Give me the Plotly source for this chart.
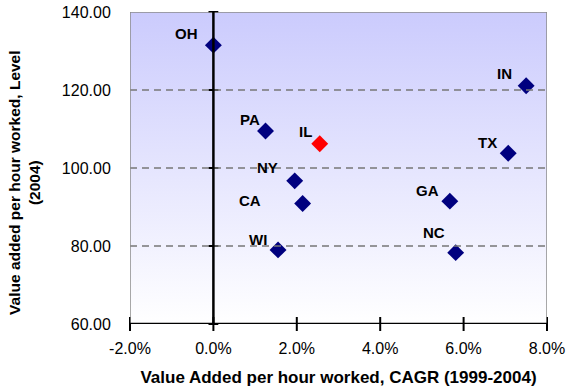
import plotly.graph_objects as go

states = ["OH", "PA", "IL", "NY", "CA", "WI", "IN", "TX", "GA", "NC"]
cagr = [0.0, 1.25, 2.55, 1.95, 2.14, 1.55, 7.50, 7.07, 5.67, 5.81]   # percent
level = [131.5, 109.5, 106.2, 96.7, 90.9, 79.0, 121.1, 103.8, 91.5, 78.3]
highlight = "IL"

x_ticks = [-2, 0, 2, 4, 6, 8]
x_tick_text = ["-2.0%", "0.0%", "2.0%", "4.0%", "6.0%", "8.0%"]
y_ticks = [60, 80, 100, 120, 140]
y_tick_text = ["60.00", "80.00", "100.00", "120.00", "140.00"]

# label offsets (pixels) relative to marker
label_offset = {
    "OH": (-27, 12), "PA": (-16, 11), "IL": (-14, 12), "NY": (-27, 13),
    "CA": (-53, 3), "WI": (-20, 10), "IN": (-22, 12), "TX": (-21, 11),
    "GA": (-22, 11), "NC": (-22, 20),
}

xmin, xmax, ymin, ymax = -2, 8, 60, 140
FONT = "Liberation Sans, Arial"

fig = go.Figure()

# gradient background
fig.add_trace(go.Scatter(
    x=[xmin, xmax, xmax, xmin, xmin], y=[ymin, ymin, ymax, ymax, ymin],
    mode="lines", line=dict(width=0), fill="toself",
    fillgradient=dict(type="vertical", colorscale=[[0, "#ffffff"], [1, "#cbcbfd"]]),
    hoverinfo="skip", showlegend=False,
))

# dashed gridlines
for yv in y_ticks[1:-1]:
    fig.add_shape(type="line", x0=xmin, x1=xmax, y0=yv, y1=yv,
                  line=dict(color="#777777", width=1.3, dash="7px,5px"))

# border (top/left/right grey)
fig.add_shape(type="rect", x0=xmin, x1=xmax, y0=ymin, y1=ymax,
              line=dict(color="#8c8c8c", width=1.5))
# axis lines
fig.add_shape(type="line", x0=0, x1=0, y0=ymin, y1=ymax, line=dict(color="black", width=2.5))
fig.add_shape(type="line", x0=xmin, x1=xmax, y0=ymin, y1=ymin, line=dict(color="black", width=2.5))

# tick marks on axes
fig.add_trace(go.Scatter(x=[0] * len(y_ticks), y=y_ticks, mode="markers",
                         marker=dict(symbol="line-ew", size=7, line=dict(color="black", width=2)),
                         hoverinfo="skip", showlegend=False, cliponaxis=False))
fig.add_trace(go.Scatter(x=x_ticks, y=[ymin] * len(x_ticks), mode="markers",
                         marker=dict(symbol="line-ns", size=10, line=dict(color="black", width=2)),
                         hoverinfo="skip", showlegend=False, cliponaxis=False))

colors = ["#ff0000" if s == highlight else "#00007f" for s in states]
fig.add_trace(go.Scatter(x=cagr, y=level, mode="markers",
                         marker=dict(symbol="diamond", size=13, color=colors),
                         showlegend=False, cliponaxis=False))

for s, xv, yv in zip(states, cagr, level):
    dx, dy = label_offset[s]
    fig.add_annotation(x=xv, y=yv, text=f"<b>{s}</b>", showarrow=False,
                       xshift=dx, yshift=dy, font=dict(size=15, color="black", family=FONT))

# y-axis title as annotation
fig.add_annotation(xref="paper", yref="paper", x=-0.252, y=0.452, xanchor="center", yanchor="middle",
                   text="<b>Value added per hour worked, Level<br>(2004)</b>", textangle=-90,
                   showarrow=False, font=dict(size=15.5, color="black", family=FONT))

fig.update_layout(
    width=566, height=392,
    margin=dict(l=130, r=19, t=12, b=68),
    paper_bgcolor="white", plot_bgcolor="white",
    font=dict(family=FONT, color="black"),
    xaxis=dict(range=[xmin, xmax], tickvals=x_ticks, ticktext=x_tick_text,
               showgrid=False, zeroline=False, showline=False, automargin=False,
               tickfont=dict(size=16), ticks="outside", ticklen=10, tickcolor="rgba(0,0,0,0)",
               title=dict(text="<b>Value Added per hour worked, CAGR (1999-2004)</b>",
                          font=dict(size=17), standoff=14)),
    yaxis=dict(range=[ymin, ymax], tickvals=y_ticks, ticktext=y_tick_text,
               showgrid=False, zeroline=False, showline=False, automargin=False,
               tickfont=dict(size=16), ticks="outside", ticklen=15, tickcolor="rgba(0,0,0,0)"),
    showlegend=False,
)

fig.write_html("out.html")
